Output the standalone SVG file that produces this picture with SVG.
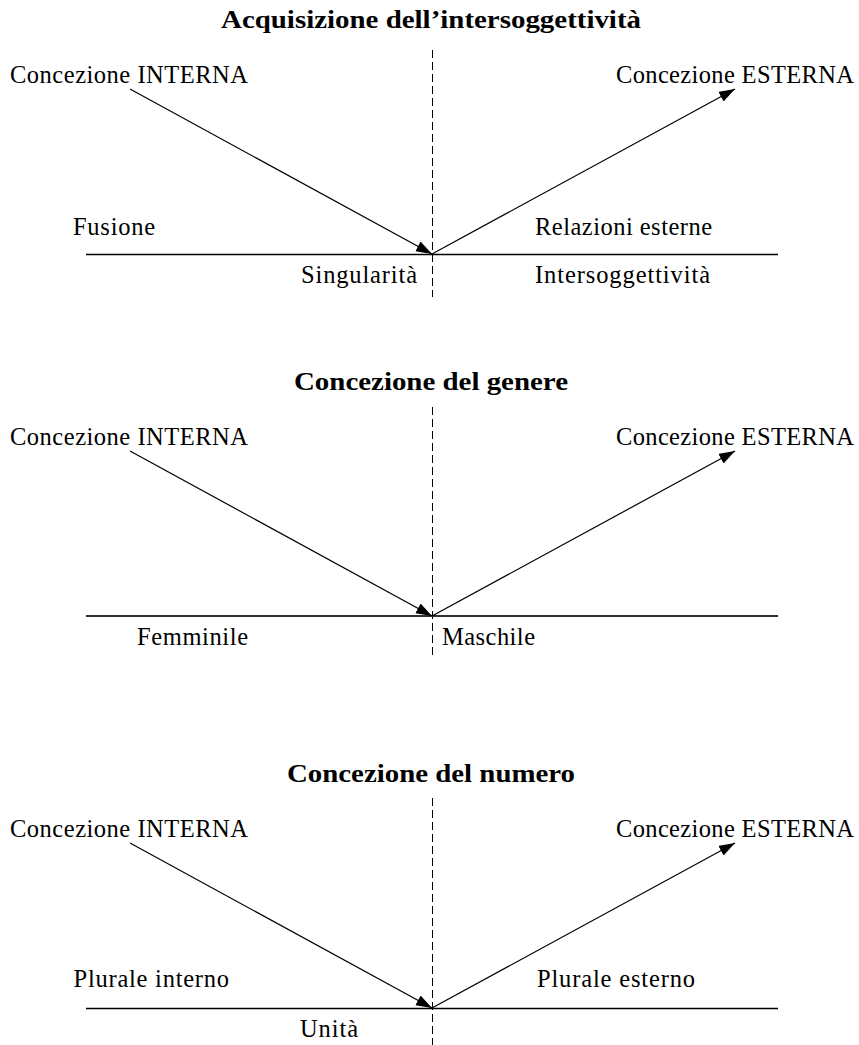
<svg xmlns="http://www.w3.org/2000/svg" width="859" height="1045" viewBox="0 0 859 1045">
<style>
.t{font-family:"Liberation Serif",serif;font-size:25px;font-weight:bold;fill:#000;text-anchor:middle}
.l{font-family:"Liberation Serif",serif;font-size:24.5px;fill:#000}
.d{stroke:#000;stroke-width:1;stroke-dasharray:8 4;fill:none}
.h{stroke:#000;stroke-width:1.5;fill:none}
.h2{stroke:#333;stroke-width:2;fill:none}
.a{stroke:#000;stroke-width:1.2;fill:none;marker-end:url(#ah)}
</style>
<defs>
<marker id="ah" markerUnits="userSpaceOnUse" markerWidth="17" markerHeight="12" refX="16" refY="5.5" orient="auto">
<path d="M0,0 L16,5.5 L0,11 z" fill="#000"/>
</marker>
</defs>
<rect width="859" height="1045" fill="#fff"/>

<g id="section1">
<g id="title1"><text class="t" x="431" y="28" textLength="420" lengthAdjust="spacingAndGlyphs">Acquisizione dell’intersoggettività</text></g>
<g id="int1"><text class="l" x="10" y="83" textLength="238">Concezione INTERNA</text></g>
<g id="ext1"><text class="l" x="616" y="83" textLength="238">Concezione ESTERNA</text></g>
<g id="fus1"><text class="l" x="73" y="235" textLength="82">Fusione</text></g>
<g id="rel1"><text class="l" x="535" y="235" textLength="177">Relazioni esterne</text></g>
<g id="sing1"><text class="l" x="301" y="283" textLength="116">Singularità</text></g>
<g id="inters1"><text class="l" x="535" y="283" textLength="175">Intersoggettività</text></g>
</g>

<g id="section2">
<g id="title2"><text class="t" x="431" y="390" textLength="274" lengthAdjust="spacingAndGlyphs">Concezione del genere</text></g>
<g id="int2"><text class="l" x="10" y="445" textLength="238">Concezione INTERNA</text></g>
<g id="ext2"><text class="l" x="616" y="445" textLength="238">Concezione ESTERNA</text></g>
<g id="fem2"><text class="l" x="137" y="645" textLength="111">Femminile</text></g>
<g id="mas2"><text class="l" x="442" y="645" textLength="93">Maschile</text></g>
</g>

<g id="section3">
<g id="title3"><text class="t" x="431" y="782" textLength="288" lengthAdjust="spacingAndGlyphs">Concezione del numero</text></g>
<g id="int3"><text class="l" x="10" y="837" textLength="238">Concezione INTERNA</text></g>
<g id="ext3"><text class="l" x="616" y="837" textLength="238">Concezione ESTERNA</text></g>
<g id="pi3"><text class="l" x="73.5" y="987" textLength="155.5">Plurale interno</text></g>
<g id="pe3"><text class="l" x="537" y="987" textLength="158">Plurale esterno</text></g>
<g id="uni3"><text class="l" x="300" y="1037" textLength="58">Unità</text></g>
</g>

<g id="connectors">
<line class="d" x1="432.5" y1="50" x2="432.5" y2="297"/>
<line class="h" x1="86" y1="254.5" x2="778" y2="254.5"/>
<line class="a" x1="130" y1="89" x2="432" y2="254"/>
<line class="a" x1="432" y1="254" x2="735" y2="89"/>

<line class="d" x1="432.5" y1="407" x2="432.5" y2="659"/>
<line class="h2" x1="86" y1="616" x2="778" y2="616"/>
<line class="a" x1="130" y1="451" x2="432" y2="616"/>
<line class="a" x1="432" y1="616" x2="735" y2="451"/>

<line class="d" x1="432.5" y1="798" x2="432.5" y2="1045"/>
<line class="h" x1="86" y1="1008.5" x2="778" y2="1008.5"/>
<line class="a" x1="130" y1="843" x2="432" y2="1008"/>
<line class="a" x1="432" y1="1008" x2="735" y2="843"/>
</g>
</svg>
